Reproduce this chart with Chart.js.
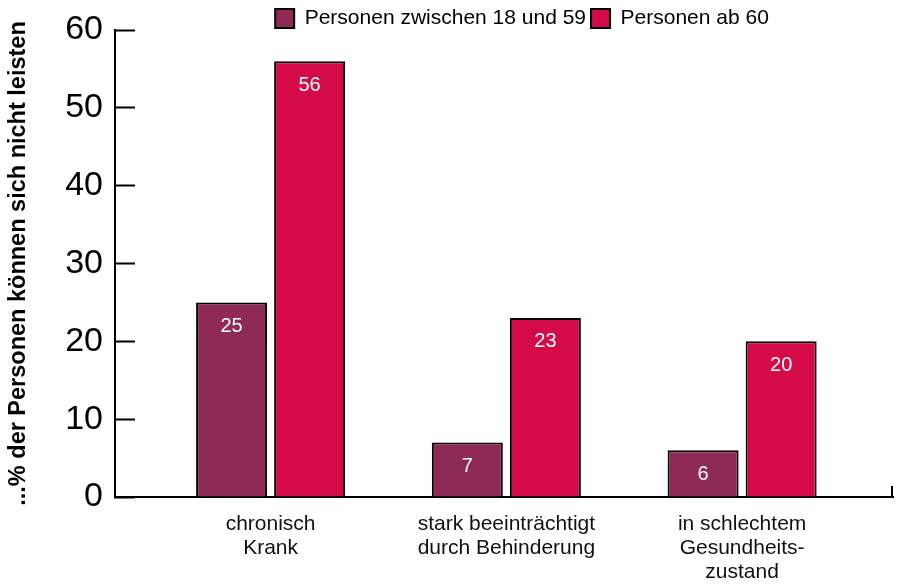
<!DOCTYPE html>
<html>
<head>
<meta charset="utf-8">
<script src="https://cdn.jsdelivr.net/npm/chart.js@4/dist/chart.umd.min.js"></script>
<style>
  html, body { margin: 0; padding: 0; background: #ffffff; }
  #wrap { width: 902px; height: 585px; }
</style>
</head>
<body>
<div id="wrap"><canvas id="c" width="902" height="585"></canvas></div>
<script>
// ---- data ----
const categories = [
  ['chronisch', 'Krank'],
  ['stark beeinträchtigt', 'durch Behinderung'],
  ['in schlechtem', 'Gesundheits-', 'zustand']
];
const seriesNames = ['Personen zwischen 18 und 59', 'Personen ab 60'];
const values18to59 = [25, 7, 6];
const valuesAb60 = [56, 23, 20];
const yTickValues = [0, 10, 20, 30, 40, 50, 60];
const yTitle = '...% der Personen können sich nicht leisten';

const FONT = "'Liberation Sans', Arial, Helvetica, sans-serif";
const colDark = '#8E2A55';
const colRed = '#D50A48';

const toPoints = vals => vals.map((v, i) => ({ x: i, y: v }));

const valueLabels = {
  id: 'valueLabels',
  afterDatasetsDraw(chart) {
    const ctx = chart.ctx;
    ctx.save();
    ctx.fillStyle = '#ffffff';
    ctx.font = '20px ' + FONT;
    ctx.textAlign = 'center';
    ctx.textBaseline = 'middle';
    chart.data.datasets.forEach((ds, di) => {
      chart.getDatasetMeta(di).data.forEach((bar, i) => {
        ctx.fillText(String(ds.data[i].y), bar.x, bar.y + 24);
      });
    });
    ctx.restore();
  }
};

const axisEndTick = {
  id: 'axisEndTick',
  afterDraw(chart) {
    const xs = chart.scales.x;
    const px = xs.getPixelForValue(xs.max);
    const ctx = chart.ctx;
    ctx.save();
    ctx.strokeStyle = '#000';
    ctx.lineWidth = 2;
    ctx.beginPath();
    ctx.moveTo(px - 1, xs.top + 1);
    ctx.lineTo(px - 1, xs.top - 11);
    ctx.stroke();
    ctx.restore();
  }
};

// nudge the legend block to the right, as in the reference
const legendShift = {
  id: 'legendShift',
  afterLayout(chart) {
    if (chart.legend) { chart.legend.left += 18; chart.legend.right += 18; }
  }
};

new Chart(document.getElementById('c'), {
  type: 'bar',
  data: {
    datasets: [
      { label: seriesNames[0], data: toPoints(values18to59), backgroundColor: colDark, borderColor: '#000', borderWidth: 2 },
      { label: seriesNames[1], data: toPoints(valuesAb60), backgroundColor: colRed, borderColor: '#000', borderWidth: 2 }
    ]
  },
  options: {
    responsive: false,
    animation: false,
    devicePixelRatio: 1,
    categoryPercentage: 0.662,
    barPercentage: 0.91,
    layout: { padding: { top: 3, right: 9, left: 0, bottom: 0 } },
    plugins: {
      legend: {
        position: 'top',
        fullSize: false,
        maxHeight: 27,
        labels: {
          color: '#000',
          font: { family: FONT, size: 21 },
          boxWidth: 19,
          boxHeight: 19,
          padding: 5
        }
      },
      tooltip: { enabled: false }
    },
    scales: {
      x: {
        type: 'linear',
        offset: false,
        min: -0.66,
        max: 2.64,
        afterBuildTicks: s => { s.ticks = categories.map((c, i) => ({ value: i })); },
        afterFit: s => { s.height = 88; },
        grid: { display: false, drawTicks: false },
        border: { display: true, color: '#000', width: 2 },
        ticks: {
          color: '#111',
          font: { family: FONT, size: 21, lineHeight: 1.15 },
          padding: 15,
          maxRotation: 0,
          autoSkip: false,
          callback: v => categories[v] || ''
        }
      },
      y: {
        min: 0,
        max: 60,
        afterBuildTicks: s => { s.ticks = yTickValues.map(v => ({ value: v })); },
        afterFit: s => { s.width = 115; s.paddingTop = 0; s.paddingBottom = 0; },
        grid: {
          display: true,
          drawOnChartArea: false,
          drawTicks: true,
          tickLength: -20,
          tickWidth: 2,
          tickColor: '#000'
        },
        border: { display: true, color: '#000', width: 2 },
        ticks: {
          color: '#000',
          font: { family: FONT, size: 34 },
          padding: 32
        },
        title: {
          display: true,
          text: yTitle,
          color: '#000',
          font: { family: FONT, size: 23.5, weight: 'bold', lineHeight: 1.2 },
          padding: { top: 4, bottom: 0 }
        }
      }
    }
  },
  plugins: [valueLabels, axisEndTick, legendShift]
});
</script>
</body>
</html>
